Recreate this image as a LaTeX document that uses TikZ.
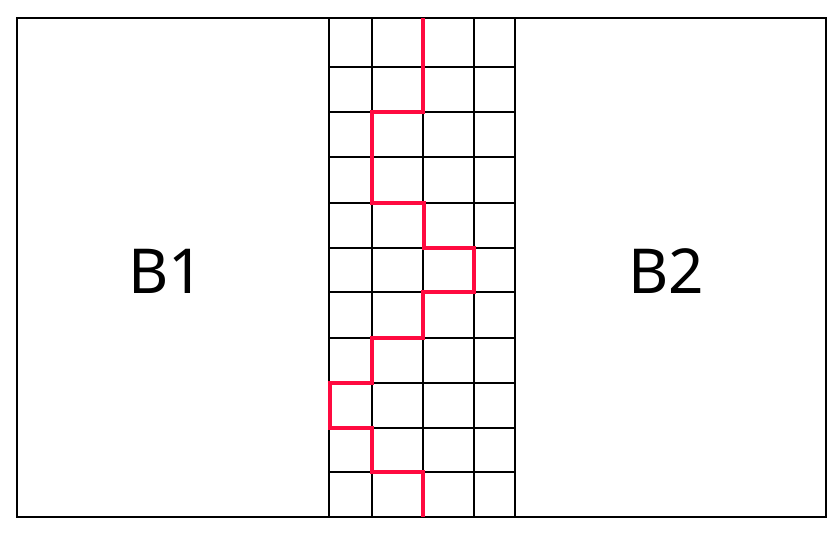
\documentclass[tikz,border=0pt]{standalone}
\usepackage{fontspec}
\setmainfont{Noto Sans}
\usetikzlibrary{positioning}
\definecolor{cutred}{HTML}{FF0A40}
\tikzset{
  blockline/.style={draw=black, line width=1.3pt},
  cutpath/.style={draw=cutred, line width=4.6pt, line join=miter},
  blocklabel/.style={font=\fontsize{62}{62}\selectfont, inner sep=0pt},
}

\begin{document}
\begin{tikzpicture}[x=1pt, y=-1pt]
\useasboundingbox (0,0) rectangle (840,536);

% outer frame and the two blocks
\draw[blockline] (17,18) rectangle (826,517);
\node[blocklabel] (b1) at (166,271) {B1};
\node[blocklabel] (b2) at (666,271) {B2};

% grid between the blocks
\foreach \gx in {329,372,423,474,515}
  \draw[blockline] (\gx,18) -- (\gx,517);
\foreach \gy in {67,112,157,203,248,292,338,383,428,472}
  \draw[blockline] (329,\gy) -- (515,\gy);

% separating cut
\draw[cutpath] (423,18) -- (423,112) -- (372,112) -- (372,203) -- (424,203)
  -- (424,248) -- (474,248) -- (474,292) -- (423,292) -- (423,338)
  -- (372,338) -- (372,383) -- (330,383) -- (330,428) -- (372,428)
  -- (372,472) -- (423,472) -- (423,517);
\end{tikzpicture}
\end{document}
